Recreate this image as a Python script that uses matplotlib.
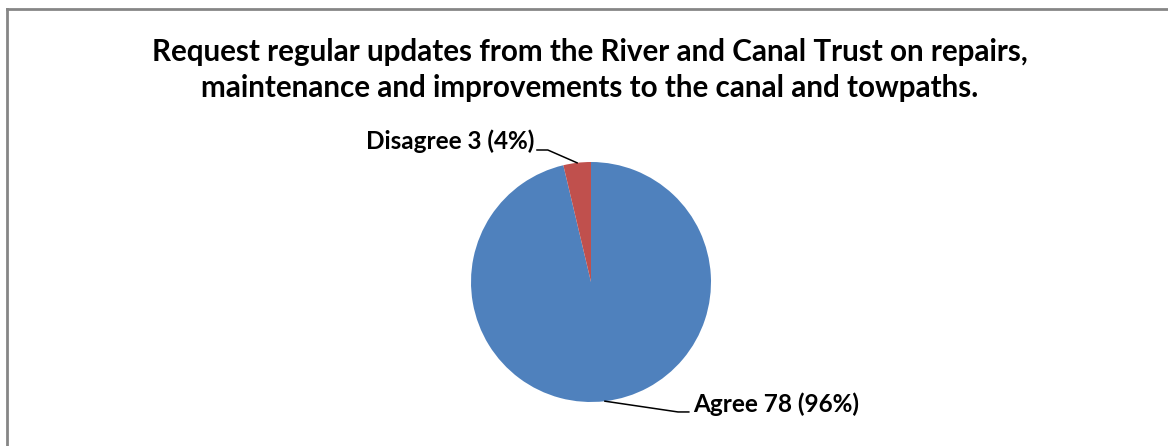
import numpy as np
import matplotlib
matplotlib.use("Agg")
import matplotlib.pyplot as plt
from matplotlib.lines import Line2D

# Survey answers
labels = ["Agree", "Disagree"]
counts = [78, 3]
colors = ["#4F81BD", "#C0504D"]
title = ("Request regular updates from the River and Canal Trust on repairs,\n"
         "maintenance and improvements to the canal and towpaths.")

W, H = 1168, 446
fig = plt.figure(figsize=(W / 100, H / 100), dpi=100)
plt.rcParams['font.family'] = ['Lato', 'DejaVu Sans']

# pie centred at (591, 282) px, radius 120 px
cx, cy, r = 591, 282, 120
ax = fig.add_axes([(cx - r) / W, (H - cy - r) / H, 2 * r / W, 2 * r / H])
wedges, _ = ax.pie(counts, colors=colors, startangle=90, counterclock=False,
                   radius=1.0, wedgeprops=dict(linewidth=0))
ax.set_xlim(-1, 1)
ax.set_ylim(-1, 1)
ax.set_aspect('equal')
ax.axis('off')

total = sum(counts)
# leader-line elbow positions in data units
elbows = {"Agree": (0.725, -1.083), "Disagree": (-0.36, 1.10)}
for w, lab, n in zip(wedges, labels, counts):
    mid = np.deg2rad((w.theta1 + w.theta2) / 2)
    px, py = np.cos(mid), np.sin(mid)
    ex, ey = elbows[lab]
    pct = round(100 * n / total)
    txt = f"{lab} {n} ({pct}%)"
    if ex > 0:
        ax.plot([px, ex, ex + 0.09], [py, ey, ey], color='black', lw=1.1, clip_on=False)
        ax.text(ex + 0.125, ey + 0.065, txt, ha='left', va='center', fontsize=17.5,
                fontweight='bold', clip_on=False)
    else:
        ax.plot([px, ex, ex - 0.09], [py, ey, ey], color='black', lw=1.1, clip_on=False)
        ax.text(ex - 0.11, ey + 0.07, txt, ha='right', va='center', fontsize=17.5,
                fontweight='bold', clip_on=False)

fig.text(590 / W, 1 - 70 / H, title, ha='center', va='center', fontsize=21.3,
         fontweight='bold', linespacing=1.36)

# chart frame (only top and left edges visible)
fig.add_artist(Line2D([6.5 / W, 1], [1 - 8.5 / H, 1 - 8.5 / H], transform=fig.transFigure,
                      color='#868686', lw=2))
fig.add_artist(Line2D([6.5 / W, 6.5 / W], [0, 1 - 8.5 / H], transform=fig.transFigure,
                      color='#868686', lw=2))

fig.savefig("out.png", dpi=100, facecolor='white')
